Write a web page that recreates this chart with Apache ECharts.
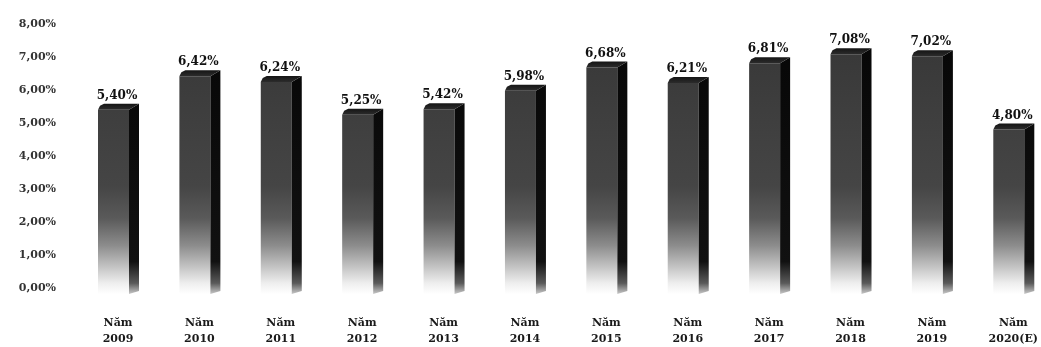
<!DOCTYPE html>
<html>
<head>
<meta charset="utf-8">
<script src="https://cdn.jsdelivr.net/npm/echarts@6/dist/echarts.min.js"></script>
<style>html,body{margin:0;padding:0;background:#fff}#c{width:1041px;height:347px}</style>
</head>
<body>
<div id="c"></div>
<script>
var categories = ['Năm\n2009','Năm\n2010','Năm\n2011','Năm\n2012','Năm\n2013','Năm\n2014','Năm\n2015','Năm\n2016','Năm\n2017','Năm\n2018','Năm\n2019','Năm\n2020(E)'];
var growth = [5.40, 6.42, 6.24, 5.25, 5.42, 5.98, 6.68, 6.21, 6.81, 7.08, 7.02, 4.80];
var yTicks = [0, 1, 2, 3, 4, 5, 6, 7, 8];

function fmt(v){ return v.toFixed(2).replace('.', ',') + '%'; }

var chart = echarts.init(document.getElementById('c'), null, {renderer:'canvas'});
var font = 'DejaVu Serif';

function renderItem(params, api){
  var idx = api.value(0);
  var val = api.value(1);
  var top = api.coord([idx, val]);
  var zero = api.coord([idx, 0]);
  var full = api.coord([idx, yTicks[yTicks.length-1]]);
  var cx = top[0];
  var x0 = cx - 20, x1 = cx + 11, x2 = cx + 21;
  var yF = top[1], base = zero[1] + 6, d = 6;
  var frontGrad = new echarts.graphic.LinearGradient(0, full[1], 0, base, [
    {offset:0, color:'#363636'},
    {offset:0.6, color:'#454545'},
    {offset:0.72, color:'#5a5a5a'},
    {offset:0.82, color:'#8c8c8c'},
    {offset:0.9, color:'#c4c4c4'},
    {offset:0.96, color:'#eeeeee'},
    {offset:1, color:'#ffffff'}
  ], true);
  var sideGrad = new echarts.graphic.LinearGradient(0, full[1], 0, base, [
    {offset:0, color:'#060606'},
    {offset:0.88, color:'#111111'},
    {offset:0.96, color:'#5a5a5a'},
    {offset:1, color:'#c8c8c8'}
  ], true);
  var topGrad = new echarts.graphic.LinearGradient(0, yF - d, 0, yF, [
    {offset:0, color:'#151515'},
    {offset:1, color:'#2c2c2c'}
  ], true);
  return {
    type:'group',
    children:[
      {type:'polygon', shape:{points:[[x0, yF],[x1, yF],[x1, base],[x0, base]]}, style:{fill:frontGrad}},
      {type:'polygon', shape:{points:[[x1, yF],[x2, yF-d],[x2, base-3],[x1, base]]}, style:{fill:sideGrad}},
      {type:'polygon', shape:{points:[[x0, yF],[x0+2, yF-d+2],[x0+6, yF-d],[x2, yF-d],[x1, yF]]}, style:{fill:topGrad}},
      {type:'text', style:{text:fmt(val), x:cx - 1, y:yF - d - 8, align:'center', verticalAlign:'middle',
        font:'bold 12px "' + font + '"', fill:'#111'}}
    ]
  };
}

chart.setOption({
  animation:false,
  grid:{left:118, right:26, top:24, bottom:54, containLabel:false},
  xAxis:{
    type:'category', data:categories, boundaryGap:false,
    axisLine:{show:false}, axisTick:{show:false},
    axisLabel:{margin:27, fontFamily:font, fontWeight:'bold', fontSize:11, color:'#1a1a1a', lineHeight:16, interval:0}
  },
  yAxis:{
    type:'value', min:0, max:8, interval:1,
    splitLine:{show:false}, axisLine:{show:false}, axisTick:{show:false},
    axisLabel:{margin:62, formatter:function(v){return fmt(v);}, fontFamily:font, fontWeight:'bold', fontSize:11, color:'#333'}
  },
  series:[{
    type:'custom', renderItem:renderItem, clip:false,
    data: growth.map(function(v, i){ return [i, v]; })
  }]
});
</script>
</body>
</html>
